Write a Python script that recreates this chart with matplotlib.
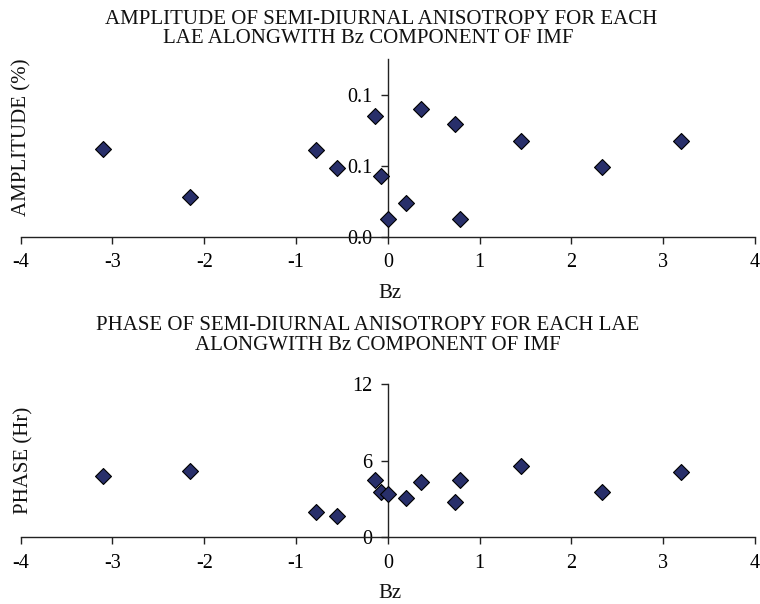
import matplotlib
matplotlib.use("Agg")
import matplotlib.pyplot as plt

# IMF Bz values for each LAE
bz = [-3.10, -2.157, -0.78, -0.55, -0.14, -0.08, 0.0, 0.20, 0.356, 0.735, 0.79, 1.456, 2.336, 3.193]
# Amplitude of the semi-diurnal anisotropy (%)
amplitude = [0.0618, 0.0281, 0.0611, 0.0484, 0.0849, 0.0429, 0.0123, 0.0236,
             0.0903, 0.0795, 0.0123, 0.0672, 0.0491, 0.0672]
# Phase of the semi-diurnal anisotropy (Hr)
phase = [4.77, 5.21, 2.00, 1.69, 4.48, 3.52, 3.36, 3.08, 4.30, 2.76, 4.46, 5.56, 3.54, 5.09]

x_ticks = [-4, -3, -2, -1, 0, 1, 2, 3, 4]
amp_ticks = [0.0, 0.05, 0.10]
amp_tick_labels = ["0.0", "0.1", "0.1"]
phase_ticks = [0, 6, 12]
phase_tick_labels = ["0", "6", "12"]

FONT = "Liberation Serif"
FS_TEXT = 15
FS_TICK = 14.5
W, H = 760, 604
MARKER_FACE = "#282f6a"

fig = plt.figure(figsize=(W / 100, H / 100), dpi=100)


def px_axes(left, top, right, bottom):
    return fig.add_axes([left / W, 1 - bottom / H, (right - left) / W, (bottom - top) / H])


def style(ax, yticks, ylabels, ylim):
    ax.set_xlim(-4, 4)
    ax.set_ylim(*ylim)
    for s in ("top", "right"):
        ax.spines[s].set_visible(False)
    ax.spines["left"].set_position(("data", 0))
    for s in ("left", "bottom"):
        ax.spines[s].set_color("#222222")
        ax.spines[s].set_linewidth(1.0)
    ax.set_xticks(x_ticks)
    ax.set_xticklabels([str(t) for t in x_ticks], fontfamily=FONT, fontsize=FS_TICK)
    ax.set_yticks(yticks)
    ax.set_yticklabels(ylabels, fontfamily=FONT, fontsize=FS_TICK)
    ax.tick_params(axis="x", direction="out", length=5, width=1.0, color="#222222", pad=7)
    ax.tick_params(axis="y", direction="out", length=5, width=1.0, color="#222222", pad=6)
    ax.patch.set_alpha(0)


# Amplitude panel
ax1 = px_axes(20.7, 59.3, 755, 236.7)
ax1.scatter(bz, amplitude, marker="D", s=66, facecolor=MARKER_FACE,
            edgecolor="black", linewidth=0.8, zorder=3, clip_on=False)
style(ax1, amp_ticks, amp_tick_labels, (0, 0.125))

# Phase panel
ax2 = px_axes(20.7, 384, 755, 537.3)
ax2.scatter(bz, phase, marker="D", s=66, facecolor=MARKER_FACE,
            edgecolor="black", linewidth=0.8, zorder=3, clip_on=False)
style(ax2, phase_ticks, phase_tick_labels, (0, 12))


def ptext(x, y, s, **kw):
    fig.text(x / W, 1 - y / H, s, fontfamily=FONT, fontsize=FS_TEXT, color="#111111", **kw)


# Titles
ptext(381, 24, "AMPLITUDE OF SEMI-DIURNAL ANISOTROPY FOR EACH", ha="center", va="baseline")
ptext(368, 43, "LAE ALONGWITH Bz COMPONENT OF IMF", ha="center", va="baseline")
ptext(368, 330, "PHASE OF SEMI-DIURNAL ANISOTROPY FOR EACH LAE", ha="center", va="baseline")
ptext(378, 350, "ALONGWITH Bz COMPONENT OF IMF", ha="center", va="baseline")

# Axis labels
ptext(390, 298, "Bz", ha="center", va="baseline")
ptext(390, 598, "Bz", ha="center", va="baseline")
ptext(22, 137, "AMPLITUDE (%)", ha="center", va="center", rotation=90)
ptext(24, 460, "PHASE (Hr)", ha="center", va="center", rotation=90)

fig.savefig("out.png", dpi=100)
